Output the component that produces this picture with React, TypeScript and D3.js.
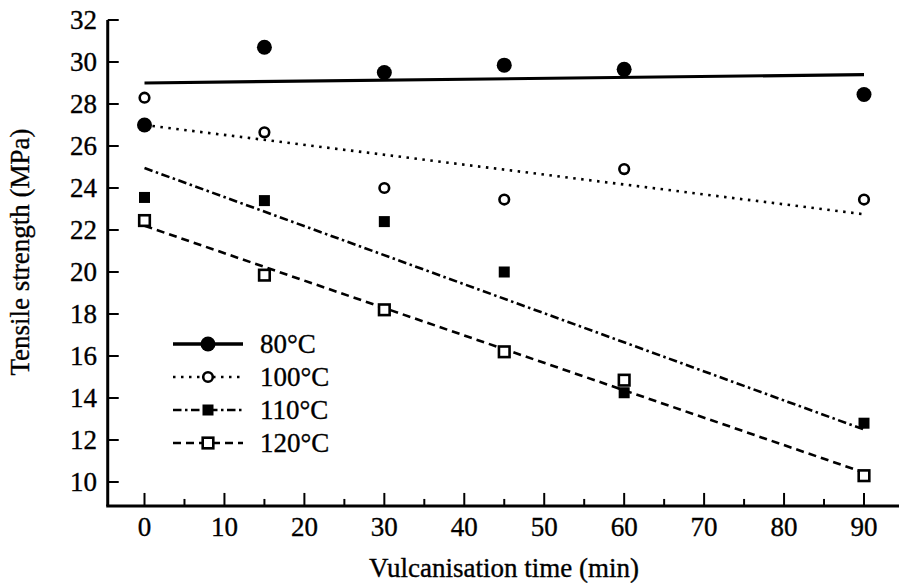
import React from "react";
import * as d3 from "d3";

const times = [0, 15, 30, 45, 60, 90];
const series80 = [27.0, 30.7, 29.5, 29.85, 29.65, 28.45];
const series100 = [28.3, 26.65, 24.0, 23.45, 24.9, 23.45];
const series110 = [23.55, 23.4, 22.4, 20.0, 14.25, 12.8];
const series120 = [22.45, 19.85, 18.2, 16.2, 14.85, 10.3];
const fitStart = [29.0, 27.0, 24.95, 22.2];
const fitEnd = [29.4, 22.75, 12.5, 10.45];
const legendLabels = ["80°C", "100°C", "110°C", "120°C"];
const xTicks = [0, 10, 20, 30, 40, 50, 60, 70, 80, 90];
const xMinorTicks = [5, 15, 25, 35, 45, 55, 65, 75, 85];
const yTicks = [10, 12, 14, 16, 18, 20, 22, 24, 26, 28, 30, 32];

const allSeries = [series80, series100, series110, series120];
const dashes = ["none", "2.5 5.5", "8.5 3.5 2.5 3.5", "8 5"];
const markerKinds = ["filledCircle", "openCircle", "filledSquare", "openSquare"];

const W = 902;
const H = 586;
const FONT = "Liberation Serif, DejaVu Serif, serif";
const textStyle: React.CSSProperties = { fontFamily: FONT, fontSize: "27px" };

const x = d3.scaleLinear().domain([0, 90]).range([144.5, 864]);
const y = d3.scaleLinear().domain([10, 32]).range([482, 20]);

function Marker({ kind, cx, cy }: { kind: string; cx: number; cy: number }) {
  if (kind === "filledCircle") return <circle cx={cx} cy={cy} r={7.5} fill="#000" />;
  if (kind === "openCircle")
    return <circle cx={cx} cy={cy} r={4.8} fill="#fff" stroke="#000" strokeWidth={2.6} />;
  if (kind === "filledSquare")
    return <rect x={cx - 5.5} y={cy - 5.5} width={11} height={11} fill="#000" />;
  return (
    <rect x={cx - 5.3} y={cy - 5.3} width={10.6} height={10.6} fill="#fff" stroke="#000" strokeWidth={2.6} />
  );
}

export default function App() {
  const xAxisY = y(8.86);
  const xAxisStart = x(-4.6);
  const xAxisEnd = 899;
  const line = d3
    .line<[number, number]>()
    .x((d) => x(d[0]))
    .y((d) => y(d[1]));

  const legendX0 = 173;
  const legendX1 = 243;
  const legendRows = [344, 377, 410, 443];
  const txt = { fill: "#000", stroke: "#000", strokeWidth: 0.35 };

  return (
    <svg
      width={W}
      height={H}
      style={{ position: "absolute", left: 0, top: 0, background: "#fff" }}
    >
      <rect x={0} y={0} width={W} height={H} fill="#fff" />
      {allSeries.map((_, i) => (
        <path
          key={"fit" + i}
          d={line([
            [0, fitStart[i]],
            [90, fitEnd[i]],
          ]) as string}
          fill="none"
          stroke="#000"
          strokeWidth={i === 0 ? 3.2 : 2.6}
          strokeDasharray={dashes[i]}
        />
      ))}
      {allSeries.map((s, i) =>
        s.map((v, j) => <Marker key={"m" + i + "-" + j} kind={markerKinds[i]} cx={x(times[j])} cy={y(v)} />)
      )}
      <line x1={xAxisStart} y1={y(32)} x2={xAxisStart} y2={xAxisY} stroke="#000" strokeWidth={3} />
      <line x1={xAxisStart - 1.5} y1={xAxisY} x2={xAxisEnd} y2={xAxisY} stroke="#000" strokeWidth={3} />
      {yTicks.map((t) => (
        <g key={"yt" + t}>
          <line x1={xAxisStart} y1={y(t)} x2={xAxisStart + 11} y2={y(t)} stroke="#000" strokeWidth={2} />
          <text x={97} y={y(t)} dy="0.35em" textAnchor="end" style={textStyle} {...txt}>
            {t}
          </text>
        </g>
      ))}
      {xTicks.map((t) => (
        <g key={"xt" + t}>
          <line x1={x(t)} y1={xAxisY} x2={x(t)} y2={xAxisY - 13} stroke="#000" strokeWidth={2} />
          <text x={x(t)} y={536} textAnchor="middle" style={textStyle} {...txt}>
            {t}
          </text>
        </g>
      ))}
      {xMinorTicks.map((t) => (
        <line key={"xm" + t} x1={x(t)} y1={xAxisY} x2={x(t)} y2={xAxisY - 7} stroke="#000" strokeWidth={2} />
      ))}
      <text x={504} y={577} textAnchor="middle" style={textStyle} {...txt}>
        Vulcanisation time (min)
      </text>
      <text transform={`translate(29, 252) rotate(-90)`} textAnchor="middle" style={textStyle} {...txt}>
        Tensile strength (MPa)
      </text>
      {legendLabels.map((lab, i) => (
        <g key={"lg" + i}>
          <line
            x1={legendX0}
            y1={legendRows[i]}
            x2={legendX1}
            y2={legendRows[i]}
            stroke="#000"
            strokeWidth={i === 0 ? 3.5 : 2.6}
            strokeDasharray={dashes[i]}
          />
          <Marker kind={markerKinds[i]} cx={(legendX0 + legendX1) / 2} cy={legendRows[i]} />
          <text x={260} y={legendRows[i]} dy="0.35em" style={textStyle} {...txt}>
            {lab}
          </text>
        </g>
      ))}
    </svg>
  );
}
